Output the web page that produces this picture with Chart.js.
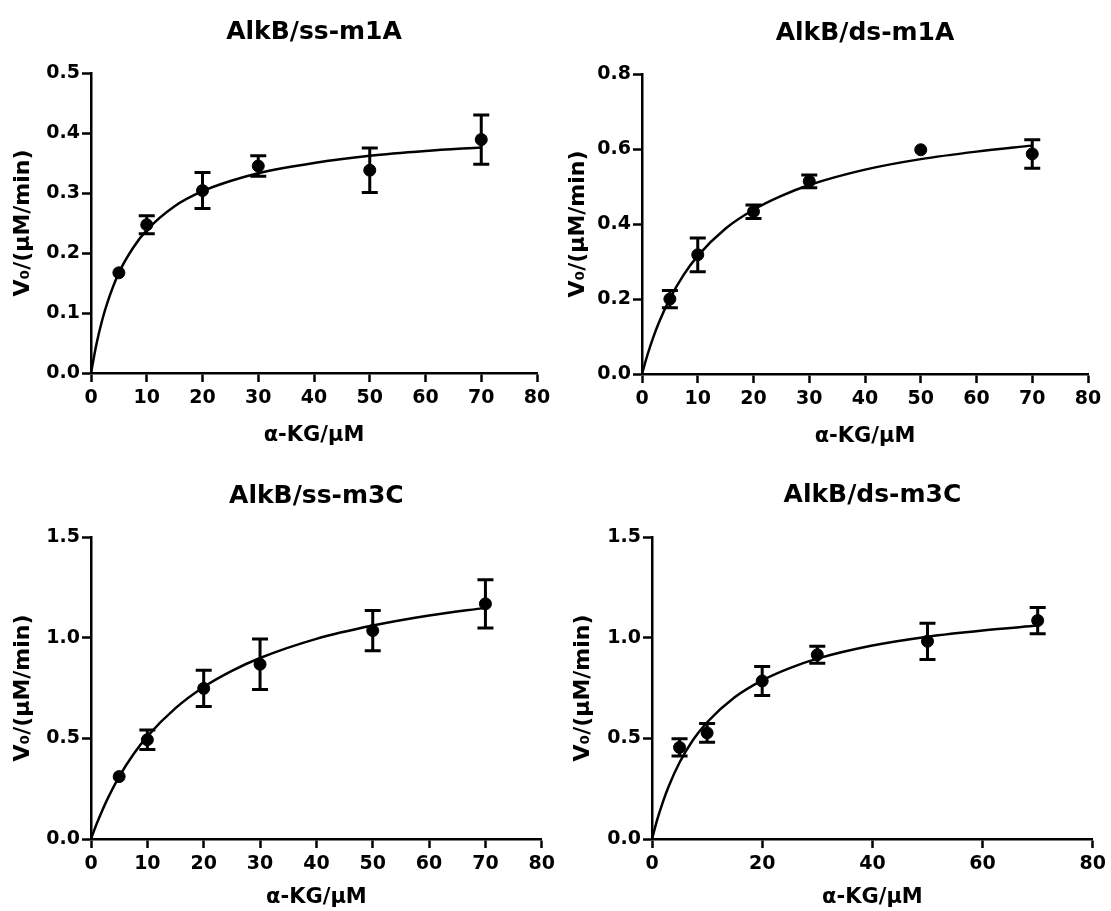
<!DOCTYPE html>
<html>
<head>
<meta charset="utf-8">
<script src="https://cdn.jsdelivr.net/npm/chart.js@4.4.1/dist/chart.umd.min.js"></script>
<style>
  body { margin: 0; background: #fff; }
  #wrap { position: relative; width: 1111px; height: 911px; background: #fff; }
  canvas { position: absolute; }
</style>
</head>
<body>
<div id="wrap">
  <canvas id="c1" width="560" height="455" style="left:0px;top:0px"></canvas>
  <canvas id="c2" width="556" height="455" style="left:555px;top:0px"></canvas>
  <canvas id="c3" width="560" height="456" style="left:0px;top:455px"></canvas>
  <canvas id="c4" width="551" height="456" style="left:560px;top:455px"></canvas>
</div>
<script>
// alpha-KG concentrations (uM) of the measured points
const kgConc = [5, 10, 20, 30, 50, 70];
const fitX = [0, 1, 2, 3, 5, 7.5, 10, 15, 20, 25, 30, 40, 50, 60, 70];

// AlkB/ss-m1A
const ssM1aMean = [0.167, 0.247, 0.304, 0.345, 0.338, 0.389];
const ssM1aErr  = [0, 0.015, 0.030, 0.017, 0.037, 0.041];
const ssM1aFit  = [0, 0.049, 0.088, 0.119, 0.167, 0.208, 0.238, 0.278, 0.303, 0.320, 0.333, 0.350, 0.362, 0.370, 0.376];

// AlkB/ds-m1A
const dsM1aMean = [0.200, 0.318, 0.433, 0.514, 0.598, 0.587];
const dsM1aErr  = [0.023, 0.045, 0.018, 0.017, 0, 0.038];
const dsM1aFit  = [0, 0.052, 0.097, 0.136, 0.201, 0.265, 0.315, 0.388, 0.438, 0.475, 0.504, 0.545, 0.573, 0.593, 0.609];

// AlkB/ss-m3C
const ssM3cMean = [0.310, 0.493, 0.748, 0.868, 1.035, 1.168];
const ssM3cErr  = [0, 0.048, 0.090, 0.125, 0.100, 0.120];
const ssM3cFit  = [0, 0.075, 0.142, 0.203, 0.310, 0.420, 0.510, 0.650, 0.755, 0.835, 0.899, 0.994, 1.060, 1.110, 1.148];

// AlkB/ds-m3C
const dsM3cMean = [0.455, 0.527, 0.785, 0.915, 0.982, 1.085];
const dsM3cErr  = [0.043, 0.047, 0.072, 0.042, 0.090, 0.065];
const dsM3cFit  = [0, 0.101, 0.186, 0.260, 0.380, 0.494, 0.580, 0.704, 0.788, 0.849, 0.896, 0.961, 1.005, 1.036, 1.060];

const FONT = "'DejaVu Sans', 'Liberation Sans', Arial, sans-serif";

// draws the SD bars of the second dataset
const errorBars = {
  id: 'errorBars',
  afterDatasetsDraw(chart, args, opts) {
    const ctx = chart.ctx;
    const xs = chart.scales.x, ys = chart.scales.y;
    const ds = chart.data.datasets[1];
    const errs = opts.errors || [];
    ctx.save();
    ctx.strokeStyle = '#000';
    ctx.lineWidth = 3;
    ds.data.forEach((p, i) => {
      const e = errs[i];
      if (!e) return;
      const px = xs.getPixelForValue(p.x);
      const top = ys.getPixelForValue(p.y + e);
      const bot = ys.getPixelForValue(p.y - e);
      ctx.beginPath();
      ctx.moveTo(px, top); ctx.lineTo(px, bot);
      ctx.moveTo(px - 8, top); ctx.lineTo(px + 8, top);
      ctx.moveTo(px - 8, bot); ctx.lineTo(px + 8, bot);
      ctx.stroke();
    });
    ctx.restore();
  }
};

function makePanel(id, p) {
  const ctx = document.getElementById(id).getContext('2d');
  return new Chart(ctx, {
    type: 'scatter',
    data: {
      datasets: [
        {
          data: fitX.map((x, i) => ({ x: x, y: p.fit[i] })),
          showLine: true,
          borderColor: '#000',
          borderWidth: 2.5,
          pointRadius: 0,
          cubicInterpolationMode: 'monotone',
          fill: false
        },
        {
          data: kgConc.map((x, i) => ({ x: x, y: p.mean[i] })),
          showLine: false,
          pointRadius: 6,
          pointBackgroundColor: '#000',
          pointBorderColor: '#000'
        }
      ]
    },
    options: {
      responsive: false,
      animation: false,
      devicePixelRatio: 1,
      layout: { padding: { left: 0, right: p.padRight, top: 0, bottom: 0 } },
      plugins: {
        legend: { display: false },
        tooltip: { enabled: false },
        title: {
          display: true,
          text: p.title,
          color: '#000',
          fullSize: false,
          font: { family: FONT, size: 25, weight: 'bold' },
          padding: { top: p.titleTop - 0.6, bottom: p.titleBottom - 0.6 }
        },
        errorBars: { errors: p.err }
      },
      scales: {
        x: {
          type: 'linear',
          min: 0,
          max: 80,
          afterFit: (s) => { s.height = p.xHeight; },
          border: { display: true, color: '#000', width: 2.5 },
          grid: { drawOnChartArea: false, drawTicks: true, tickLength: 9, tickColor: '#000', tickWidth: 2.5 },
          ticks: {
            stepSize: p.xStep,
            color: '#000',
            padding: 5,
            maxRotation: 0,
            font: { family: FONT, size: 19, weight: 'bold' }
          },
          title: {
            display: true,
            text: 'α-KG/μM',
            color: '#000',
            font: { family: FONT, size: 21, weight: 'bold' },
            padding: { top: 0, bottom: p.xTitleBottom }
          }
        },
        y: {
          type: 'linear',
          min: 0,
          max: p.yMax,
          afterFit: (s) => { s.width = p.yWidth; },
          border: { display: true, color: '#000', width: 2.5 },
          grid: { drawOnChartArea: false, drawTicks: true, tickLength: 9, tickColor: '#000', tickWidth: 2.5 },
          ticks: {
            stepSize: p.yStep,
            color: '#000',
            padding: 2,
            font: { family: FONT, size: 19, weight: 'bold' },
            callback: (v) => v.toFixed(1)
          },
          title: {
            display: true,
            text: 'V₀/(μM/min)',
            color: '#000',
            font: { family: FONT, size: 22, weight: 'bold' },
            padding: { top: 10, bottom: 0 }
          }
        }
      }
    },
    plugins: [errorBars]
  });
}

makePanel('c1', {
  title: 'AlkB/ss-m1A', mean: ssM1aMean, err: ssM1aErr, fit: ssM1aFit,
  yMax: 0.5, yStep: 0.1, xStep: 10,
  yWidth: 91, xHeight: 82, padRight: 23, titleTop: 17.6, titleBottom: 26.6, xTitleBottom: 6.4
});
makePanel('c2', {
  title: 'AlkB/ds-m1A', mean: dsM1aMean, err: dsM1aErr, fit: dsM1aFit,
  yMax: 0.8, yStep: 0.2, xStep: 10,
  yWidth: 87, xHeight: 81, padRight: 23, titleTop: 18.6, titleBottom: 26.6, xTitleBottom: 5.4
});
makePanel('c3', {
  title: 'AlkB/ss-m3C', mean: ssM3cMean, err: ssM3cErr, fit: ssM3cFit,
  yMax: 1.5, yStep: 0.5, xStep: 10,
  yWidth: 91, xHeight: 72, padRight: 17, titleTop: 26.6, titleBottom: 26.6, xTitleBottom: 0.4
});
makePanel('c4', {
  title: 'AlkB/ds-m3C', mean: dsM3cMean, err: dsM3cErr, fit: dsM3cFit,
  yMax: 1.5, yStep: 0.5, xStep: 20,
  yWidth: 92, xHeight: 72, padRight: 14, titleTop: 25.6, titleBottom: 27.6, xTitleBottom: 0.4
});
</script>
</body>
</html>
